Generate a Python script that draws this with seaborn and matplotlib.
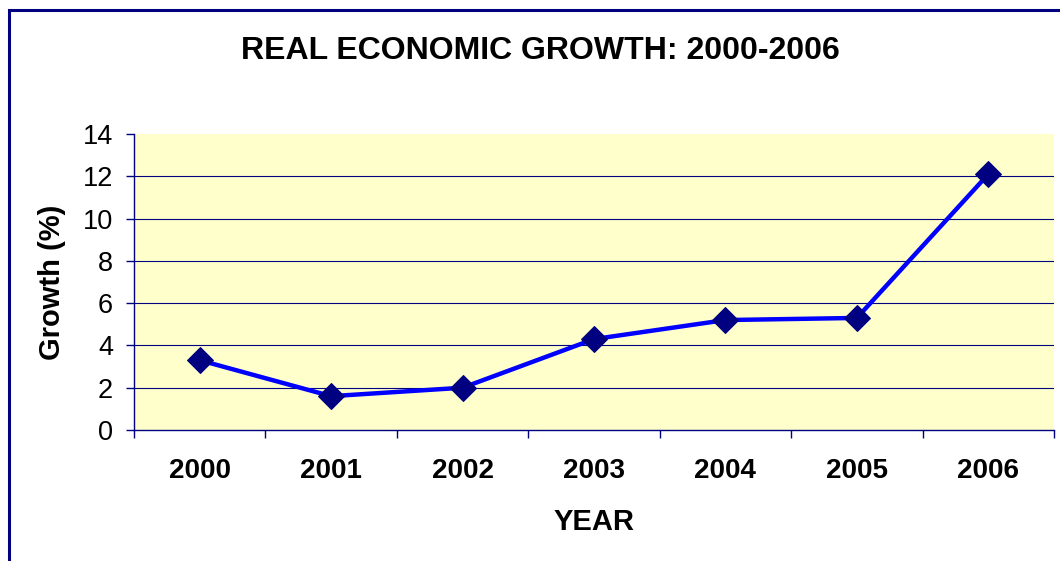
import numpy as np
import pandas as pd
import matplotlib
matplotlib.use("Agg")
import matplotlib.pyplot as plt
import seaborn as sns
from matplotlib.patches import Rectangle
from matplotlib.ticker import FixedLocator

years = ["2000", "2001", "2002", "2003", "2004", "2005", "2006"]
growth = [3.3, 1.6, 2.0, 4.3, 5.2, 5.3, 12.1]
y_ticks = [0, 2, 4, 6, 8, 10, 12, 14]

sns.set_style("white")
plt.rcParams["font.family"] = ["Liberation Sans", "DejaVu Sans"]
plt.rcParams["text.color"] = "black"
plt.rcParams["xtick.color"] = "black"
plt.rcParams["ytick.color"] = "black"
plt.rcParams["axes.labelcolor"] = "black"

navy = "#000080"

df = pd.DataFrame({"year": years, "growth": growth})

fig = plt.figure(figsize=(10.6, 5.61), dpi=100)
ax = fig.add_axes([134 / 1060, 1 - 430 / 561, 920 / 1060, 296 / 561])
ax.set_facecolor("#FFFFCC")

# gridlines (not at 0 or 14)
for v in y_ticks[1:-1]:
    ax.axhline(v, color=navy, lw=0.8, zorder=1)

sns.lineplot(data=df, x="year", y="growth", ax=ax, color="#0000FF", lw=3.2,
             marker="D", markersize=13, markerfacecolor=navy,
             markeredgecolor=navy, zorder=3)

ax.set_ylim(0, 14)
ax.set_xlim(-0.5, len(years) - 0.5)
ax.set_yticks(y_ticks)
ax.set_yticklabels([str(t) for t in y_ticks], fontsize=19.5)

# category boundaries as major ticks, labels on minor ticks
ax.xaxis.set_major_locator(FixedLocator(np.arange(len(years) + 1) - 0.5))
ax.xaxis.set_major_formatter(plt.NullFormatter())
ax.xaxis.set_minor_locator(FixedLocator(np.arange(len(years))))
ax.set_xticklabels(years, minor=True, fontsize=20, fontweight="bold")
ax.tick_params(axis="x", which="major", length=6, width=1, color=navy,
               direction="out", bottom=True)
ax.tick_params(axis="x", which="minor", length=0, pad=20)
ax.tick_params(axis="y", length=6, width=1, color=navy, direction="out",
               left=True, pad=9, labelcolor="black")

for side in ["top", "right"]:
    ax.spines[side].set_visible(False)
for side in ["left", "bottom"]:
    ax.spines[side].set_color(navy)
    ax.spines[side].set_linewidth(1)

ax.set_xlabel("YEAR", fontsize=21, fontweight="bold")
ax.set_ylabel("Growth (%)", fontsize=21, fontweight="bold", va="center")
ax.xaxis.set_label_coords(0.5, -0.265)
ax.yaxis.set_label_coords(-0.089, 0.5)

fig.text(540 / 1060, 1 - 59 / 561, "REAL ECONOMIC GROWTH: 2000-2006",
         ha="center", va="baseline", fontsize=23, fontweight="bold")

# chart border (cropped on right and bottom)
fig.patches.append(Rectangle((8.5 / 1060, -0.1), 1.2, 1.1 - 10 / 561,
                             transform=fig.transFigure, fill=False,
                             edgecolor=navy, lw=2.2, clip_on=False))

fig.savefig("out.png", dpi=100)
